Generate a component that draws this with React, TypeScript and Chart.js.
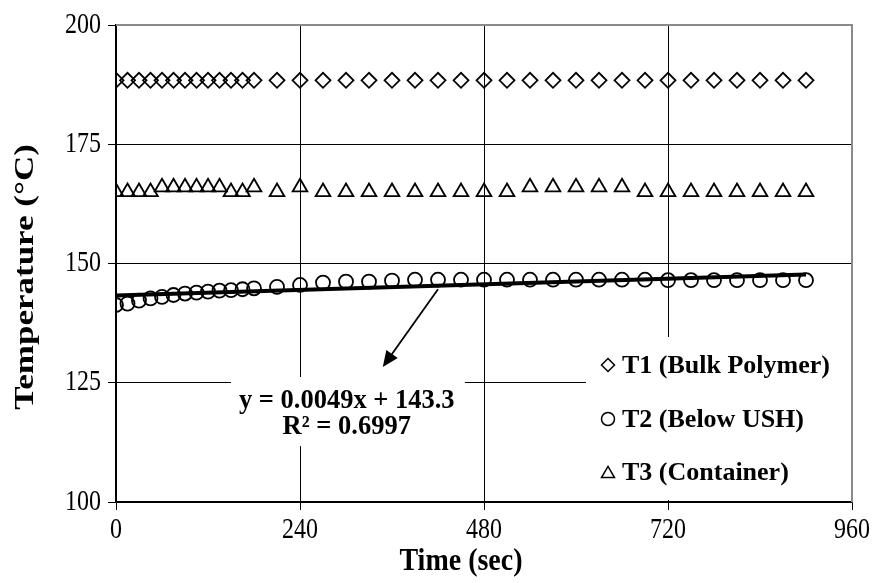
import React, { useEffect, useRef } from 'react';
import { Chart, registerables } from 'chart.js';

Chart.register(...registerables);

// ---- Data ----
const TIME = [0, 15, 30, 45, 60, 75, 90, 105, 120, 135, 150, 165, 180, 210, 240, 270, 300, 330, 360, 390, 420, 450, 480, 510, 540, 570, 600, 630, 660, 690, 720, 750, 780, 810, 840, 870, 900];
const T1_BULK = [188.4, 188.4, 188.4, 188.4, 188.4, 188.4, 188.4, 188.4, 188.4, 188.4, 188.4, 188.4, 188.4, 188.4, 188.4, 188.4, 188.4, 188.4, 188.4, 188.4, 188.4, 188.4, 188.4, 188.4, 188.4, 188.4, 188.4, 188.4, 188.4, 188.4, 188.4, 188.4, 188.4, 188.4, 188.4, 188.4, 188.4];
const T2_BELOW_USH = [141.3, 141.6, 142.2, 142.7, 143.0, 143.4, 143.7, 143.9, 144.1, 144.3, 144.4, 144.6, 144.8, 145.1, 145.5, 146.0, 146.2, 146.2, 146.4, 146.6, 146.6, 146.6, 146.6, 146.6, 146.6, 146.6, 146.6, 146.6, 146.6, 146.6, 146.5, 146.5, 146.5, 146.5, 146.5, 146.5, 146.5];
const T3_CONTAINER = [165, 165, 165, 165, 166, 166, 166, 166, 166, 166, 165, 165, 166, 165, 166, 165, 165, 165, 165, 165, 165, 165, 165, 165, 166, 166, 166, 166, 166, 165, 165, 165, 165, 165, 165, 165, 165];
const TREND_X = [0, 900];
const TREND_SLOPE = 0.0049;
const TREND_INTERCEPT = 143.3;
const X_TICKS = [0, 240, 480, 720, 960];
const Y_TICKS = [100, 125, 150, 175, 200];
const SERIES_LABELS = ['T1 (Bulk Polymer)', 'T2 (Below USH)', 'T3 (Container)'];
const EQUATION_LINES = ['y = 0.0049x + 143.3', 'R\u00B2 = 0.6997'];
const X_TITLE = 'Time (sec)';
const Y_TITLE = 'Temperature (\u00B0C)';
// arrow from trendline to equation label, in data units
const ARROW_FROM = { x: 420, y: 144.6 };
const ARROW_TO = { x: 348, y: 128.3 };

const FONT = "'Liberation Serif', 'Times New Roman', serif";

function drawText(
  ctx: CanvasRenderingContext2D,
  text: string,
  x: number,
  y: number,
  font: string,
  align: CanvasTextAlign,
  baseline: CanvasTextBaseline,
  stretch = 1,
  rotate = false,
) {
  ctx.save();
  ctx.font = font;
  ctx.textAlign = align;
  ctx.textBaseline = baseline;
  ctx.fillStyle = '#000';
  ctx.translate(x, y);
  if (rotate) {
    ctx.rotate(-Math.PI / 2);
    ctx.scale(stretch, 1);
  } else {
    ctx.scale(1, stretch);
  }
  ctx.fillText(text, 0, 0);
  ctx.restore();
}

function drawMarker(ctx: CanvasRenderingContext2D, style: string, x: number, y: number, r: number) {
  ctx.beginPath();
  if (style === 'rectRot') {
    ctx.moveTo(x, y - r);
    ctx.lineTo(x + r, y);
    ctx.lineTo(x, y + r);
    ctx.lineTo(x - r, y);
    ctx.closePath();
  } else if (style === 'circle') {
    ctx.arc(x, y, r, 0, Math.PI * 2);
  } else {
    const h = r * 1.7;
    ctx.moveTo(x, y - h / 2);
    ctx.lineTo(x + r, y + h / 2);
    ctx.lineTo(x - r, y + h / 2);
    ctx.closePath();
  }
  ctx.stroke();
}

const decorPlugin = {
  id: 'decor',
  beforeDatasetsDraw(chart: any) {
    const ctx: CanvasRenderingContext2D = chart.ctx;
    const { left, right, top, bottom } = chart.chartArea;
    const xs = chart.scales.x;
    const ys = chart.scales.y;
    ctx.save();
    // white box behind equation label
    ctx.fillStyle = '#ffffff';
    const ex0 = xs.getPixelForValue(150);
    const ex1 = xs.getPixelForValue(455);
    const ey0 = ys.getPixelForValue(126.2);
    const ey1 = ys.getPixelForValue(111.7);
    ctx.fillRect(ex0, ey0, ex1 - ex0, ey1 - ey0);
    // white legend box
    ctx.fillRect(right - 266, bottom - 165, 266, 163);
    // gray plot border (top, right)
    ctx.strokeStyle = '#8a8a8a';
    ctx.lineWidth = 2;
    ctx.beginPath();
    ctx.moveTo(left, top);
    ctx.lineTo(right, top);
    ctx.lineTo(right, bottom);
    ctx.stroke();
    ctx.restore();
  },
  afterDraw(chart: any) {
    const ctx: CanvasRenderingContext2D = chart.ctx;
    const { right, bottom } = chart.chartArea;
    const xs = chart.scales.x;
    const ys = chart.scales.y;

    // tick labels
    const tickFont = `24px ${FONT}`;
    xs.ticks.forEach((t: any) => {
      drawText(ctx, String(t.value), xs.getPixelForValue(t.value), 530, tickFont, 'center', 'middle', 1.2);
    });
    ys.ticks.forEach((t: any) => {
      drawText(ctx, String(t.value), 101, ys.getPixelForValue(t.value), tickFont, 'right', 'middle', 1.2);
    });

    ctx.save();
    // arrow
    const ax0 = xs.getPixelForValue(ARROW_FROM.x);
    const ay0 = ys.getPixelForValue(ARROW_FROM.y);
    const ax1 = xs.getPixelForValue(ARROW_TO.x);
    const ay1 = ys.getPixelForValue(ARROW_TO.y);
    const ang = Math.atan2(ay1 - ay0, ax1 - ax0);
    const headLen = 16;
    const headW = 7;
    ctx.strokeStyle = '#000';
    ctx.fillStyle = '#000';
    ctx.lineWidth = 1.8;
    ctx.beginPath();
    ctx.moveTo(ax0, ay0);
    ctx.lineTo(ax1 - Math.cos(ang) * headLen * 0.8, ay1 - Math.sin(ang) * headLen * 0.8);
    ctx.stroke();
    ctx.beginPath();
    ctx.moveTo(ax1, ay1);
    ctx.lineTo(ax1 - Math.cos(ang) * headLen - Math.sin(ang) * headW, ay1 - Math.sin(ang) * headLen + Math.cos(ang) * headW);
    ctx.lineTo(ax1 - Math.cos(ang) * headLen + Math.sin(ang) * headW, ay1 - Math.sin(ang) * headLen - Math.cos(ang) * headW);
    ctx.closePath();
    ctx.fill();

    // legend markers
    const styles = ['rectRot', 'circle', 'triangle'];
    const baselines = [bottom - 129, bottom - 75, bottom - 22];
    ctx.lineWidth = 1.5;
    for (let i = 0; i < 3; i++) {
      drawMarker(ctx, styles[i], right - 244, baselines[i] - 8, 6.5);
    }
    ctx.restore();

    // equation text
    const eqFont = `bold 26.5px ${FONT}`;
    const ecx = xs.getPixelForValue(301);
    drawText(ctx, EQUATION_LINES[0], ecx, ys.getPixelForValue(119.8), eqFont, 'center', 'alphabetic');
    drawText(ctx, EQUATION_LINES[1], ecx, ys.getPixelForValue(114.3), eqFont, 'center', 'alphabetic');

    // legend text
    const legFont = `bold 26px ${FONT}`;
    for (let i = 0; i < 3; i++) {
      drawText(ctx, SERIES_LABELS[i], right - 230, baselines[i], legFont, 'left', 'alphabetic');
    }

    // axis titles
    const titleFont = `bold 28px ${FONT}`;
    drawText(ctx, X_TITLE, 461, 562, titleFont, 'center', 'middle', 1.15);
    drawText(ctx, Y_TITLE, 26, 277, titleFont, 'center', 'middle', 1.25, true);
  },
};

export default function App() {
  const canvasRef = useRef<HTMLCanvasElement | null>(null);

  useEffect(() => {
    const canvas = canvasRef.current;
    if (!canvas) return;
    const pointCommon = {
      borderColor: '#000000',
      backgroundColor: 'rgba(0,0,0,0)',
      borderWidth: 1.8,
      showLine: false,
      order: 1,
    };
    const chart = new Chart(canvas, {
      type: 'scatter',
      data: {
        datasets: [
          {
            type: 'line',
            label: 'Linear (T2)',
            data: TREND_X.map((x) => ({ x, y: TREND_SLOPE * x + TREND_INTERCEPT })),
            borderColor: '#000000',
            borderWidth: 4,
            pointRadius: 0,
            fill: false,
            order: 0,
          } as any,
          {
            ...pointCommon,
            label: SERIES_LABELS[0],
            data: TIME.map((t, i) => ({ x: t, y: T1_BULK[i] })),
            pointStyle: 'rectRot',
            pointRadius: 7.5,
          },
          {
            ...pointCommon,
            label: SERIES_LABELS[1],
            data: TIME.map((t, i) => ({ x: t, y: T2_BELOW_USH[i] })),
            pointStyle: 'circle',
            pointRadius: 7,
          },
          {
            ...pointCommon,
            label: SERIES_LABELS[2],
            data: TIME.map((t, i) => ({ x: t, y: T3_CONTAINER[i] })),
            pointStyle: 'triangle',
            pointRadius: 8.5,
          },
        ],
      },
      options: {
        responsive: false,
        animation: false,
        devicePixelRatio: 1,
        layout: { padding: { left: 0, right: 26, top: 25, bottom: 0 } },
        plugins: {
          legend: { display: false },
          tooltip: { enabled: false },
          title: { display: false },
        },
        scales: {
          x: {
            type: 'linear',
            min: 0,
            max: 960,
            afterBuildTicks: (s: any) => {
              s.ticks = X_TICKS.map((v) => ({ value: v }));
            },
            afterFit: (s: any) => {
              s.height = 81;
            },
            ticks: {
              display: false,
              maxRotation: 0,
              autoSkip: false,
            },
            grid: { color: '#000', lineWidth: 1, tickLength: 8, drawTicks: true },
            border: { color: '#000', width: 1.5 },
          },
          y: {
            type: 'linear',
            min: 100,
            max: 200,
            afterBuildTicks: (s: any) => {
              s.ticks = Y_TICKS.map((v) => ({ value: v }));
            },
            afterFit: (s: any) => {
              s.width = 116;
            },
            ticks: {
              display: false,
              autoSkip: false,
            },
            grid: { color: '#000', lineWidth: 1, tickLength: 8, drawTicks: true },
            border: { color: '#000', width: 1.5 },
          },
        },
      },
      plugins: [decorPlugin],
    } as any);
    return () => chart.destroy();
  }, []);

  return (
    <div style={{ position: 'absolute', left: 0, top: 0, width: 878, height: 583, background: '#fff' }}>
      <canvas ref={canvasRef} width={878} height={583} style={{ display: 'block' }} />
    </div>
  );
}
